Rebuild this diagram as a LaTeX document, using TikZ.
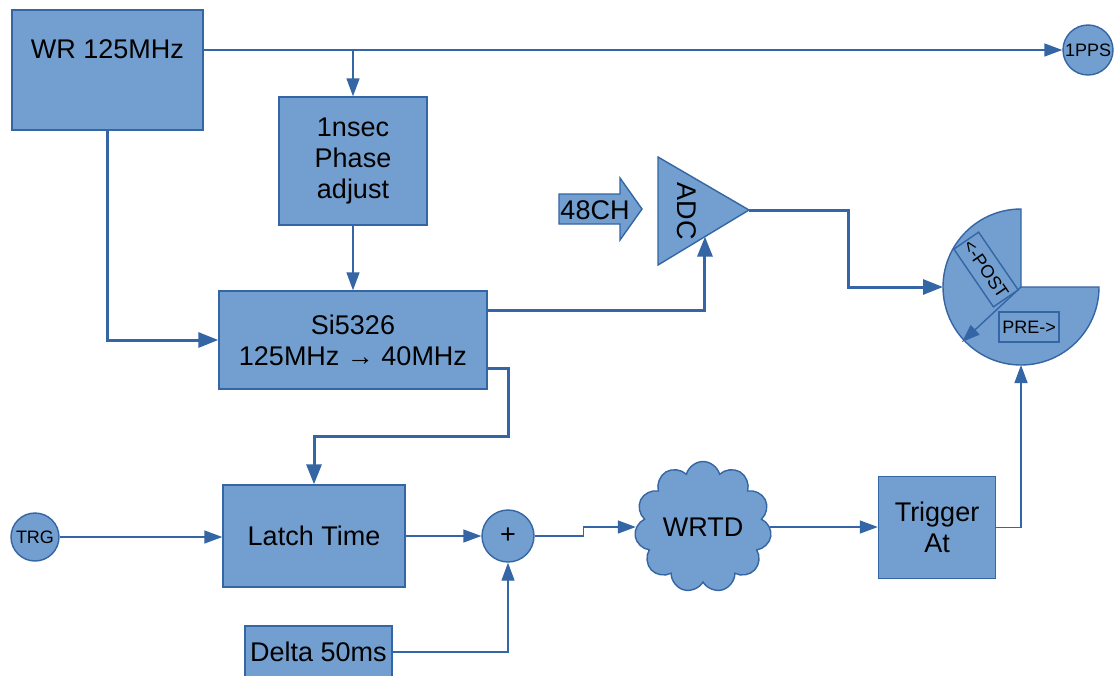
\documentclass[tikz,border=0pt]{standalone}
\usepackage{fontspec}
\setmainfont{Liberation Sans}
\usetikzlibrary{arrows.meta, positioning, shapes.geometric, shapes.symbols, calc}
\definecolor{cfill}{HTML}{729FCF}
\definecolor{cline}{HTML}{3465A4}
\tikzset{
  every picture/.style={line width=0.7pt},
  box/.style={draw=cline, fill=cfill, align=center, inner sep=0pt, font=\fontsize{13.5}{15.5}\selectfont},
  box/.default=cfill,
  disc/.style={circle, draw=cline, fill=cfill, inner sep=0pt, font=\fontsize{9}{10}\selectfont},
  arrow/.style={-{Triangle[length=9pt, width=6.5pt]}, draw=cline, line width=0.7pt},
  bus/.style={-{Triangle[length=10pt, width=7.5pt]}, draw=cline, line width=1.5pt},
  tag/.style={draw=cline, inner sep=0pt, font=\fontsize{9}{10}\selectfont},
  lbl/.style={font=\fontsize{13.5}{15.5}\selectfont, inner sep=0pt},
}

\begin{document}
\begin{tikzpicture}[x=0.5pt, y=-0.5pt]
  \path[fill=white, use as bounding box] (0,0) rectangle (1118,675);
  \node[box, minimum width=95.5pt, minimum height=60pt] (wr) at (107.5,70) {};
  \node[lbl] (wrlbl) at ([yshift=-20pt]wr.north) {WR 125MHz};
  \node[disc, minimum size=25pt] (pps) at (1088,50) {1PPS};
  \node[box, minimum width=74pt, minimum height=64pt] (phase) at (353,161) {1nsec\\Phase\\adjust};
  \node[box, minimum width=134pt, minimum height=49pt] (si) at (353,340) {Si5326\\125MHz → 40MHz};
  \node[box, minimum width=91pt, minimum height=51pt] (latch) at (314,536) {Latch Time};
  \node[box, minimum width=73.5pt, minimum height=26pt] (delta) at (318.5,652) {Delta 50ms};
  \node[disc, minimum size=24pt] (trg) at (35,537) {TRG};
  \node[disc, minimum size=26pt, font=\fontsize{13.5}{15}\selectfont] (plus) at (508,536) {+};
  \node[cloud, cloud puffs=11, cloud ignores aspect, draw=cline, fill=cfill, inner sep=0pt,
    minimum width=68.5pt, minimum height=65.5pt, font=\fontsize{13.5}{15}\selectfont] (wrtd) at (703,527) {WRTD};
  \node[box, minimum width=58.5pt, minimum height=51pt] (trig) at (937,527.5) {Trigger\\At};

  \path[draw=cline, fill=cfill] (658,157) coordinate (adctop) -- (749,210) coordinate (adctip)
    -- (658,265) coordinate (adcbot) -- cycle;
  \node[lbl, rotate=-90] (adclbl) at (687,211) {ADC};
  \coordinate (adcin) at ($(adcbot)!0.516!(adctip)$);

  \path[draw=cline, fill=cfill] (559,194) -- (620,194) -- (620,178) -- (642,209)
    -- (620,240) -- (620,224) -- (559,224) -- cycle;
  \node[lbl] (chlbl) at (595,210) {48CH};

  \path[draw=cline, fill=cfill] (1021,287) coordinate (pc) -- (1099,287)
    arc[start angle=0, end angle=270, radius=78] -- cycle;
  \coordinate (pw) at (943,287);
  \coordinate (pb) at (1021,365);
  \coordinate (postend) at (962,342);
  \node[tag, rotate=-55.6, minimum width=35pt, minimum height=15pt] (post) at (986,269.5) {<-POST};
  \node[tag, minimum width=30pt, minimum height=15pt] (pre) at (1029,327) {PRE->};
  \draw[arrow] (pc) -- (postend);

  \draw[arrow] (wr.east |- pps) -- (pps.west);
  \draw[arrow] (phase.north |- pps) -- (phase.north);
  \draw[arrow] (phase) -- (si);
  \draw[bus] (wr.south) |- (si.west);
  \draw[bus] ([yshift=15pt]si.east) -| (adcin);
  \coordinate (bend) at (508,436);
  \draw[bus] ([yshift=-14pt]si.east) -| (bend) -| (latch.north);
  \draw[bus] (adctip) -| ($(pw)+(-95,0)$) -- (pw);
  \draw[arrow] (trg) -- (trg -| latch.west);
  \draw[arrow] (latch) -- (plus);
  \draw[arrow] (delta.east) -| (plus.south);
  \draw[arrow] (plus.east) -- ++(49,0) |- (wrtd.west);
  \draw[arrow] (wrtd.east) -- (wrtd.east -| trig.west);
  \draw[arrow] (trig.east) -| (pb);
\end{tikzpicture}
\end{document}
